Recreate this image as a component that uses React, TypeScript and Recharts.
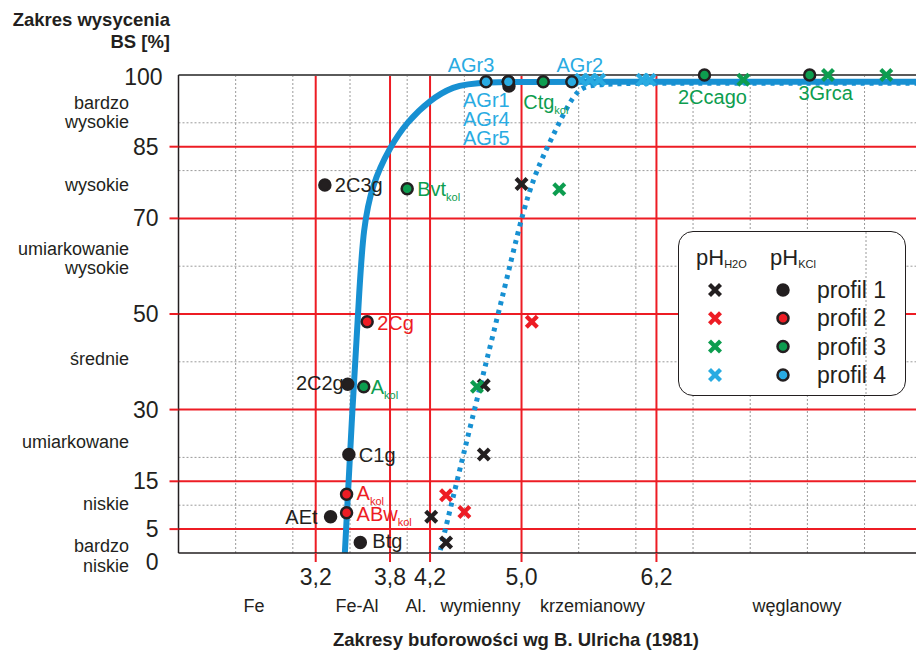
import React from 'react';
import { ComposedChart, Scatter, Line, XAxis, YAxis, ReferenceLine, Legend } from 'recharts';

const FONT = '"Liberation Sans", Arial, Helvetica, sans-serif';
const INK = '#231f20';
const RED = '#ed1c24';
const GREEN = '#0d9d4f';
const CYAN = '#29abe2';
const BLUE = '#1790d2';
const GRID = '#9a9a9a';

// ---------------- data ----------------
const phTicks = [3.2, 3.85, 4.2, 5.0, 6.18];
const phTickLabels = ['3,2', '3,8', '4,2', '5,0', '6,2'];
const phDottedGrid = [2.5, 3, 3.5, 4, 4.5, 5, 5.5, 6, 6.5, 7, 7.5, 8];
const bsTicks = [0, 5, 15, 30, 50, 70, 85, 100];
const bsThresholds = [5, 15, 30, 50, 70, 85];
const bsDottedGrid = [10, 20, 40, 60, 80, 90];

const saturationClasses = [
  ['bardzo', 'wysokie'],
  ['wysokie'],
  ['umiarkowanie', 'wysokie'],
  ['średnie'],
  ['umiarkowane'],
  ['niskie'],
  ['bardzo', 'niskie'],
];
const bufferRanges = ['Fe', 'Fe-Al', 'Al.', 'wymienny', 'krzemianowy', 'węglanowy'];
const profileNames = ['profil 1', 'profil 2', 'profil 3', 'profil 4'];

const profile1KCl = [
  { ph: 3.28, bs: 77.0, name: '2C3g' },
  { ph: 3.48, bs: 35.3, name: '2C2g' },
  { ph: 3.49, bs: 20.6, name: 'C1g' },
  { ph: 3.33, bs: 7.6, name: 'AEt' },
  { ph: 3.59, bs: 2.2, name: 'Btg' },
  { ph: 4.89, bs: 97.7, name: '' },
];
const profile1H2O = [
  { ph: 5.0, bs: 77.2 },
  { ph: 4.67, bs: 35.1 },
  { ph: 4.67, bs: 20.6 },
  { ph: 4.21, bs: 7.6 },
  { ph: 4.34, bs: 2.2 },
];
const profile2KCl = [
  { ph: 3.65, bs: 48.4, name: '2Cg' },
  { ph: 3.47, bs: 12.3, name: 'A_kol' },
  { ph: 3.47, bs: 8.4, name: 'ABw_kol' },
];
const profile2H2O = [
  { ph: 5.09, bs: 48.4 },
  { ph: 4.34, bs: 12.1 },
  { ph: 4.5, bs: 8.6 },
];
const profile3KCl = [
  { ph: 4.0, bs: 76.2, name: 'Bvt_kol' },
  { ph: 3.62, bs: 34.8, name: 'A_kol' },
  { ph: 5.19, bs: 98.6, name: 'Ctg_kol' },
  { ph: 6.6, bs: 100, name: '2Ccago' },
  { ph: 7.52, bs: 100, name: '3Grca' },
];
const profile3H2O = [
  { ph: 5.33, bs: 76.1 },
  { ph: 4.61, bs: 34.8 },
  { ph: 6.94, bs: 99 },
  { ph: 7.68, bs: 100 },
  { ph: 8.19, bs: 100 },
];
const profile4KCl = [
  { ph: 4.69, bs: 98.6, name: 'AGr3' },
  { ph: 4.885, bs: 98.6, name: 'AGr1' },
  { ph: 4.885, bs: 98.6, name: 'AGr4' },
  { ph: 4.885, bs: 98.6, name: 'AGr5' },
  { ph: 5.44, bs: 98.6, name: 'AGr2' },
];
const profile4H2O = [
  { ph: 5.52, bs: 99 },
  { ph: 5.6, bs: 99 },
  { ph: 5.68, bs: 99 },
  { ph: 6.06, bs: 99 },
  { ph: 6.12, bs: 99 },
];
const trendKCl = [
  { ph: 3.455, bs: 0 },
  { ph: 3.52, bs: 30 },
  { ph: 3.587, bs: 57.1 },
  { ph: 3.616, bs: 67.6 },
  { ph: 3.69, bs: 77 },
  { ph: 3.85, bs: 85 },
  { ph: 3.996, bs: 90.1 },
  { ph: 4.2, bs: 94.8 },
  { ph: 4.4, bs: 97.6 },
  { ph: 4.61, bs: 98.6 },
  { ph: 5.5, bs: 98.6 },
  { ph: 8.45, bs: 98.6 },
];
const trendH2O = [
  { ph: 4.29, bs: 0.6 },
  { ph: 4.56, bs: 27.4 },
  { ph: 4.87, bs: 57 },
  { ph: 5.06, bs: 76.6 },
  { ph: 5.27, bs: 87.1 },
  { ph: 5.39, bs: 93 },
  { ph: 5.49, bs: 96.8 },
  { ph: 5.6, bs: 98.3 },
  { ph: 6.5, bs: 98.3 },
  { ph: 8.45, bs: 98.3 },
];

// ---------------- layout / style ----------------
const W = 916;
const H = 652;
const TOP = 75;
const AXIS_X = 178.5;
const X_AXIS_H = 99;

type Anchor = 'start' | 'middle' | 'end';
const labelPlacement: Record<string, { dx: number; dy: number; anchor: Anchor }> = {
  'p1:2C3g': { dx: 10, dy: 0, anchor: 'start' },
  'p1:2C2g': { dx: -4, dy: -1, anchor: 'end' },
  'p1:C1g': { dx: 10, dy: 0, anchor: 'start' },
  'p1:AEt': { dx: -13, dy: 0, anchor: 'end' },
  'p1:Btg': { dx: 12, dy: -1, anchor: 'start' },
  'p2:2Cg': { dx: 10, dy: 1, anchor: 'start' },
  'p2:A_kol': { dx: 10, dy: -1, anchor: 'start' },
  'p2:ABw_kol': { dx: 10, dy: 1, anchor: 'start' },
  'p3:Bvt_kol': { dx: 10, dy: 0, anchor: 'start' },
  'p3:A_kol': { dx: 7, dy: 0, anchor: 'start' },
  'p3:Ctg_kol': { dx: -20, dy: 20, anchor: 'start' },
  'p3:2Ccago': { dx: 8, dy: 22, anchor: 'middle' },
  'p3:3Grca': { dx: 16, dy: 18, anchor: 'middle' },
  'p4:AGr3': { dx: -15, dy: -17, anchor: 'middle' },
  'p4:AGr1': { dx: -22, dy: 18, anchor: 'middle' },
  'p4:AGr4': { dx: -22, dy: 37, anchor: 'middle' },
  'p4:AGr5': { dx: -22, dy: 56, anchor: 'middle' },
  'p4:AGr2': { dx: 8, dy: -17, anchor: 'middle' },
};

const classBaselines = [[109, 128], [191], [255, 274], [365], [447.5], [510], [551.5, 571.5]];
const rangeCenters = [254, 357, 416, 480.5, 592.5, 797];

const LabelText = ({ x, y, anchor, color, name }: any) => {
  const [main, sub] = String(name).split('_');
  return (
    <text x={x} y={y + 7} textAnchor={anchor} fill={color} fontSize={20} fontFamily={FONT}>
      {main}
      {sub ? (
        <tspan fontSize={11} dy={5}>
          {sub}
        </tspan>
      ) : null}
    </text>
  );
};

const Cross = ({ cx, cy, color }: any) => (
  <g stroke={color} strokeWidth={4.2} strokeLinecap="butt">
    <line x1={cx - 5.5} y1={cy - 5.5} x2={cx + 5.5} y2={cy + 5.5} />
    <line x1={cx - 5.5} y1={cy + 5.5} x2={cx + 5.5} y2={cy - 5.5} />
  </g>
);

const Dot = ({ cx, cy, fill }: any) => (
  <circle cx={cx} cy={cy} r={5.5} fill={fill} stroke={INK} strokeWidth={2.5} />
);

const crossShape = (color: string) => (props: any) => <Cross cx={props.cx} cy={props.cy} color={color} />;

const dotShape = (profile: string, fill: string, textColor: string) => (props: any) => {
  const { cx, cy, payload } = props;
  const pl = payload && payload.name ? labelPlacement[`${profile}:${payload.name}`] : null;
  return (
    <g>
      <Dot cx={cx} cy={cy} fill={fill} />
      {pl ? <LabelText x={cx + pl.dx} y={cy + pl.dy} anchor={pl.anchor} color={textColor} name={payload.name} /> : null}
    </g>
  );
};

const XTick = (props: any) => {
  const { x, y, payload } = props;
  const i = phTicks.indexOf(payload.value);
  return (
    <g>
      <line x1={x} y1={y} x2={x} y2={y + 9} stroke={RED} strokeWidth={2} />
      <text x={x} y={y + 32} textAnchor="middle" fontSize={23} fill={INK} fontFamily={FONT}>
        {phTickLabels[i]}
      </text>
    </g>
  );
};

const YTick = (props: any) => {
  const { x, y, payload } = props;
  const v = payload.value;
  const red = bsThresholds.includes(v);
  const shift = v === 0 ? 9 : v === 100 ? 2 : 0;
  const right = v === 100 ? 16 : 20;
  return (
    <g>
      {red ? <line x1={x - 9} y1={y} x2={x} y2={y} stroke={RED} strokeWidth={2} /> : null}
      <text x={x - right} y={y + shift + 8} textAnchor="end" fontSize={23} fill={INK} fontFamily={FONT}>
        {v}
      </text>
    </g>
  );
};

const legendColors = [INK, RED, GREEN, CYAN];
const LegendBox = () => (
  <div
    style={{
      width: 228,
      height: 165,
      boxSizing: 'border-box',
      border: `1.5px solid ${INK}`,
      borderRadius: 15,
      background: '#fff',
    }}
  >
    <svg width={226} height={163} style={{ display: 'block' }}>
      <g transform="translate(-1,-1)">
        <line x1={188} y1={1} x2={188} y2={163} stroke={GRID} strokeWidth={1} strokeDasharray="2 2" />
        <text x={18} y={34} fontSize={22} fill={INK} fontFamily={FONT}>
          pH
          <tspan fontSize={11} dy={3}>
            H2O
          </tspan>
        </text>
        <text x={92} y={34} fontSize={22} fill={INK} fontFamily={FONT}>
          pH
          <tspan fontSize={11} dy={3}>
            KCl
          </tspan>
        </text>
        {profileNames.map((p, i) => {
          const cy = 59 + i * 28.3;
          return (
            <g key={p}>
              <Cross cx={37} cy={cy} color={legendColors[i]} />
              <Dot cx={105} cy={cy} fill={i === 0 ? INK : legendColors[i]} />
              <text x={139} y={cy + 8} fontSize={23} fill={INK} fontFamily={FONT}>
                {p}
              </text>
            </g>
          );
        })}
      </g>
    </svg>
  </div>
);

export default function App() {
  return (
    <div style={{ position: 'absolute', left: 0, top: 0, width: W, height: H, background: '#fff', fontFamily: FONT }}>
      <ComposedChart width={W} height={H} margin={{ top: TOP, right: 0, bottom: 0, left: 0 }}>
        <XAxis
          type="number"
          dataKey="ph"
          domain={[2, 8.45]}
          ticks={phTicks}
          interval={0}
          height={X_AXIS_H}
          tick={<XTick />}
          tickLine={false}
          tickSize={0}
          tickMargin={0}
          axisLine={{ stroke: INK, strokeWidth: 1.5 }}
        />
        <YAxis
          type="number"
          dataKey="bs"
          domain={[0, 100]}
          ticks={bsTicks}
          interval={0}
          width={AXIS_X}
          tick={<YTick />}
          tickLine={false}
          tickSize={0}
          tickMargin={0}
          axisLine={{ stroke: INK, strokeWidth: 1.5 }}
        />
        {phDottedGrid.map((v) => (
          <ReferenceLine key={`vx${v}`} x={v} stroke={GRID} strokeWidth={1} strokeDasharray="2 2" />
        ))}
        {bsDottedGrid.map((v) => (
          <ReferenceLine key={`hy${v}`} y={v} stroke={GRID} strokeWidth={1} strokeDasharray="2 2" />
        ))}
        {bsThresholds.map((v) => (
          <ReferenceLine key={`ry${v}`} y={v} stroke={RED} strokeWidth={2} />
        ))}
        {phTicks.map((v) => (
          <ReferenceLine key={`rx${v}`} x={v} stroke={RED} strokeWidth={2} />
        ))}
        <ReferenceLine y={100} stroke="#5a5a5a" strokeWidth={2} />
        <Line
          data={trendH2O}
          dataKey="bs"
          type="basis"
          stroke={BLUE}
          strokeWidth={5}
          strokeDasharray="4 5"
          dot={false}
          activeDot={false}
          isAnimationActive={false}
        />
        <Line
          data={trendKCl}
          dataKey="bs"
          type="basis"
          stroke={BLUE}
          strokeWidth={6}
          dot={false}
          activeDot={false}
          isAnimationActive={false}
        />
        <Scatter data={profile1H2O} dataKey="bs" shape={crossShape(INK)} isAnimationActive={false} />
        <Scatter data={profile2H2O} dataKey="bs" shape={crossShape(RED)} isAnimationActive={false} />
        <Scatter data={profile3H2O} dataKey="bs" shape={crossShape(GREEN)} isAnimationActive={false} />
        <Scatter data={profile4H2O} dataKey="bs" shape={crossShape(CYAN)} isAnimationActive={false} />
        <Scatter data={profile1KCl} dataKey="bs" shape={dotShape('p1', INK, INK)} isAnimationActive={false} />
        <Scatter data={profile2KCl} dataKey="bs" shape={dotShape('p2', RED, RED)} isAnimationActive={false} />
        <Scatter data={profile3KCl} dataKey="bs" shape={dotShape('p3', GREEN, GREEN)} isAnimationActive={false} />
        <Scatter data={profile4KCl} dataKey="bs" shape={dotShape('p4', CYAN, CYAN)} isAnimationActive={false} />
        <Legend
          layout="vertical"
          align="center"
          verticalAlign="middle"
          content={() => <LegendBox />}
          wrapperStyle={{ left: 678, top: 231, width: 228, height: 165, margin: 0, padding: 0 }}
        />
      </ComposedChart>
      <svg
        width={W}
        height={H}
        style={{ position: 'absolute', left: 0, top: 0, pointerEvents: 'none' }}
      >
        <text x={170} y={26} textAnchor="end" fontSize={18.5} fontWeight="bold" fill={INK} fontFamily={FONT}>
          Zakres wysycenia
        </text>
        <text x={170} y={48} textAnchor="end" fontSize={18.5} fontWeight="bold" fill={INK} fontFamily={FONT}>
          BS [%]
        </text>
        {saturationClasses.map((lines, i) =>
          lines.map((t, j) => (
            <text
              key={`c${i}-${j}`}
              x={129}
              y={classBaselines[i][j]}
              textAnchor="end"
              fontSize={18}
              fill={INK}
              fontFamily={FONT}
            >
              {t}
            </text>
          ))
        )}
        {bufferRanges.map((t, i) => (
          <text key={`b${i}`} x={rangeCenters[i]} y={612} textAnchor="middle" fontSize={18} fill={INK} fontFamily={FONT}>
            {t}
          </text>
        ))}
        <text x={516} y={646} textAnchor="middle" fontSize={18.5} fontWeight="bold" fill={INK} fontFamily={FONT}>
          Zakresy buforowości wg B. Ulricha (1981)
        </text>
      </svg>
    </div>
  );
}
